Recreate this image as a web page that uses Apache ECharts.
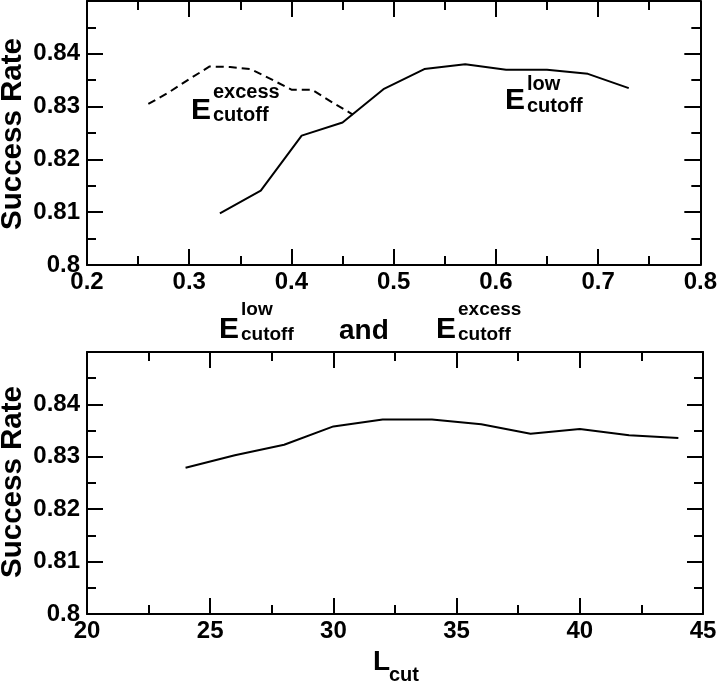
<!DOCTYPE html>
<html>
<head>
<meta charset="utf-8">
<script src="https://cdn.jsdelivr.net/npm/echarts@6/dist/echarts.min.js"></script>
<style>
  html, body { margin: 0; padding: 0; background: #fff; }
  #chart { width: 720px; height: 684px; }
</style>
</head>
<body>
<div id="chart"></div>
<script>
// top panel: success rate vs energy cutoffs
var eLowX = [0.33, 0.37, 0.41, 0.45, 0.49, 0.53, 0.57, 0.61, 0.65, 0.69, 0.73];
var eLowY = [0.8098, 0.8141, 0.8245, 0.8270, 0.8333, 0.8371, 0.8380, 0.8370, 0.8370, 0.8362, 0.8335];
var eExcessX = [0.26, 0.28, 0.30, 0.32, 0.34, 0.36, 0.38, 0.40, 0.42, 0.44, 0.46];
var eExcessY = [0.8305, 0.8327, 0.8352, 0.8376, 0.8375, 0.8371, 0.8352, 0.8332, 0.8332, 0.8308, 0.8285];
// bottom panel: success rate vs L_cut
var lCutX = [24, 26, 28, 30, 32, 34, 36, 38, 40, 42, 44];
var lCutY = [0.8279, 0.8303, 0.8323, 0.8358, 0.8371, 0.8371, 0.8362, 0.8344, 0.8353, 0.8341, 0.8336];

var FONT = '"Liberation Sans", Arial, Helvetica, sans-serif';

function pairs(xs, ys) {
  return xs.map(function (x, i) { return [x, ys[i]]; });
}

// one frame side: ticks inside, minor ticks between
function frameAxis(extra) {
  var a = {
    type: "value",
    axisLine: { show: true, onZero: false, lineStyle: { color: "#000", width: 2 } },
    axisTick: { show: true, inside: true, length: 16, lineStyle: { color: "#000", width: 2 } },
    minorTick: { show: true, splitNumber: 2, length: 9, lineStyle: { color: "#000", width: 2 } },
    splitLine: { show: false },
    axisLabel: { show: false },
  };
  for (var k in extra) a[k] = extra[k];
  return a;
}

var tickLabel = { show: true, color: "#000", fontSize: 24, fontWeight: "bold", fontFamily: FONT, margin: 5 };
var yLabel = {
  show: true, color: "#000", fontSize: 24, fontWeight: "bold", fontFamily: FONT, margin: 7,
  formatter: function (v) { return v > 0.8495 ? "" : String(+v.toFixed(2)); },
};

function txt(x, y, s, size, rot) {
  return {
    type: "text", x: x, y: y, rotation: rot || 0,
    style: {
      text: s, fill: "#000", font: "bold " + size + "px " + FONT,
      align: rot ? "center" : "left", verticalAlign: "middle",
    },
  };
}

var chart = echarts.init(document.getElementById("chart"));
chart.setOption({
  animation: false,
  backgroundColor: "#fff",
  grid: [
    { left: 87, top: 1, width: 616, height: 264 },
    { left: 87, top: 352, width: 616, height: 262 },
  ],
  xAxis: [
    frameAxis({ gridIndex: 0, position: "bottom", min: 0.2, max: 0.8, interval: 0.1, axisLabel: tickLabel }),
    frameAxis({ gridIndex: 0, position: "top", min: 0.2, max: 0.8, interval: 0.1 }),
    frameAxis({ gridIndex: 1, position: "bottom", min: 20, max: 45, interval: 5, axisLabel: tickLabel }),
    frameAxis({ gridIndex: 1, position: "top", min: 20, max: 45, interval: 5 }),
  ],
  yAxis: [
    frameAxis({ gridIndex: 0, position: "left", min: 0.8, max: 0.85, interval: 0.01, axisLabel: yLabel }),
    frameAxis({ gridIndex: 0, position: "right", min: 0.8, max: 0.85, interval: 0.01 }),
    frameAxis({ gridIndex: 1, position: "left", min: 0.8, max: 0.85, interval: 0.01, axisLabel: yLabel }),
    frameAxis({ gridIndex: 1, position: "right", min: 0.8, max: 0.85, interval: 0.01 }),
  ],
  series: [
    {
      type: "line", xAxisIndex: 0, yAxisIndex: 0, showSymbol: false,
      lineStyle: { color: "#000", width: 2 },
      data: pairs(eLowX, eLowY),
    },
    {
      type: "line", xAxisIndex: 0, yAxisIndex: 0, showSymbol: false,
      lineStyle: { color: "#000", width: 2, type: [8, 5] },
      data: pairs(eExcessX, eExcessY),
    },
    {
      type: "line", xAxisIndex: 2, yAxisIndex: 2, showSymbol: false,
      lineStyle: { color: "#000", width: 2 },
      data: pairs(lCutX, lCutY),
    },
  ],
  graphic: [
    // y axis titles
    txt(13, 134, "Success Rate", 29.5, Math.PI / 2),
    txt(13, 482, "Success Rate", 29.5, Math.PI / 2),
    // in-plot labels
    txt(191, 111, "E", 30), txt(213, 92, "excess", 20), txt(213, 115, "cutoff", 20),
    txt(505, 101, "E", 30), txt(527, 84, "low", 20), txt(527, 106, "cutoff", 20),
    // top x title
    txt(219, 330, "E", 30), txt(241, 310, "low", 19), txt(241, 335, "cutoff", 19),
    txt(339, 331, "and", 28),
    txt(436, 330, "E", 30), txt(458, 310, "excess", 19), txt(458, 335, "cutoff", 19),
    // bottom x title
    txt(373, 662, "L", 28), txt(389, 675, "cut", 20),
  ],
});
</script>
</body>
</html>
